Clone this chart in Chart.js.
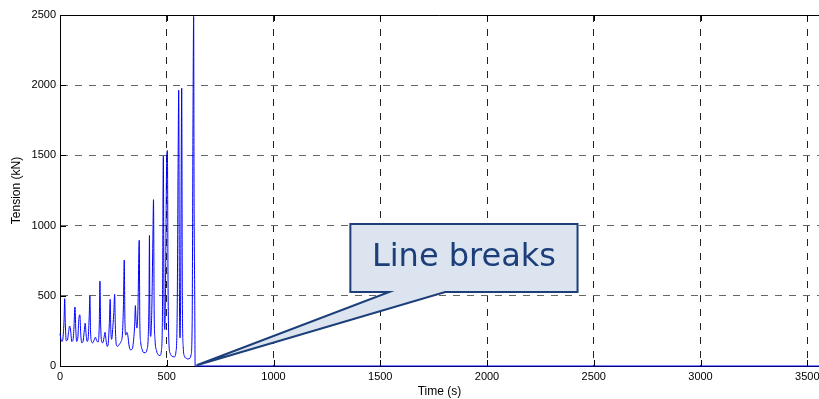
<!DOCTYPE html>
<html>
<head>
<meta charset="utf-8">
<script src="https://cdn.jsdelivr.net/npm/chart.js@4.4.0/dist/chart.umd.min.js"></script>
<style>
  html, body { margin: 0; padding: 0; background: #fff; }
  #wrap { width: 819px; height: 399px; }
</style>
</head>
<body>
<div id="wrap"><canvas id="tensionChart" width="819" height="399"></canvas></div>
<script>
// mooring line tension time history
const timeSec = [
  0, 5, 10, 14, 19, 22, 25, 29, 35, 40, 45, 50, 55, 60, 65, 70, 74, 78, 84, 88,
  93, 97, 102, 108, 113, 118, 122, 127, 132, 137, 140, 143, 148, 153, 160, 166, 172, 178, 184, 187,
  190, 195, 200, 206, 211, 216, 221, 226, 231, 235, 238, 242, 248, 252, 256, 259, 264, 270, 278, 286,
  292, 297, 301, 304, 308, 313, 318, 323, 330, 338, 345, 350, 353, 356, 360, 365, 371, 374, 378, 385,
  393, 400, 407, 413, 417, 419, 421, 425, 430, 435, 438, 441, 445, 452, 460, 468, 475, 480, 484, 487,
  491, 495, 499, 503, 506, 510, 516, 525, 535, 543, 549, 553, 556, 559, 562, 565, 568, 570, 573, 577,
  583, 592, 600, 608, 614, 619, 623, 626, 628, 631, 633, 3555
];
const tensionKN = [
  230, 185, 175, 200, 330, 480, 300, 180, 185, 240, 285, 250, 175, 180, 260, 420, 260, 175, 210, 330,
  365, 230, 165, 175, 240, 305, 230, 175, 200, 360, 500, 250, 175, 165, 185, 205, 180, 170, 300, 605,
  320, 175, 165, 200, 240, 180, 140, 160, 300, 475, 260, 190, 290, 380, 510, 290, 150, 140, 155, 175,
  220, 420, 755, 330, 220, 240, 215, 150, 115, 120, 190, 300, 430, 330, 270, 400, 895, 300, 170, 115,
  95, 95, 115, 200, 500, 930, 350, 210, 400, 900, 1185, 400, 190, 110, 80, 75, 110, 400, 1495, 500,
  260, 700, 1400, 1535, 600, 170, 90, 70, 65, 100, 400, 1400, 1965, 600, 200, 500, 1500, 1980, 500, 140,
  70, 55, 50, 55, 80, 300, 1800, 2490, 1200, 500, 0, 0
];
const xTicks = [0, 500, 1000, 1500, 2000, 2500, 3000, 3500];
const yTicks = [0, 500, 1000, 1500, 2000, 2500];
const calloutText = "Line breaks";

const points = timeSec.map((t, i) => ({ x: t, y: tensionKN[i] }));

// matlab-like frame: solid top edge and inward tick marks
const framePlugin = {
  id: "frame",
  afterDraw(chart) {
    const { ctx, chartArea: a, scales: { x, y } } = chart;
    ctx.save();
    ctx.strokeStyle = "#000";
    ctx.lineWidth = 1;
    ctx.beginPath();
    ctx.moveTo(a.left, a.top + 0.5);
    ctx.lineTo(a.right, a.top + 0.5);
    xTicks.forEach(v => {
      const px = Math.round(x.getPixelForValue(v)) + 0.5;
      ctx.moveTo(px, a.bottom);
      ctx.lineTo(px, a.bottom - 6);
      ctx.moveTo(px, a.top);
      ctx.lineTo(px, a.top + 6);
    });
    yTicks.forEach(v => {
      const py = Math.round(y.getPixelForValue(v)) + 0.5;
      ctx.moveTo(a.left, py);
      ctx.lineTo(a.left + 6, py);
    });
    ctx.stroke();
    ctx.restore();
  }
};

// speech-bubble annotation pointing at the break
const calloutPlugin = {
  id: "callout",
  afterDraw(chart) {
    const { ctx, scales: { x, y } } = chart;
    const X = v => x.getPixelForValue(v);
    const Y = v => y.getPixelForValue(v);
    const l = X(1360), r = X(2424), t = Y(1011), b = Y(527);
    ctx.save();
    ctx.beginPath();
    ctx.moveTo(l, t);
    ctx.lineTo(r, t);
    ctx.lineTo(r, b);
    ctx.lineTo(X(1804), b);
    ctx.lineTo(X(640), Y(5));
    ctx.lineTo(X(1542), b);
    ctx.lineTo(l, b);
    ctx.closePath();
    ctx.fillStyle = "#dce4f0";
    ctx.fill();
    ctx.lineWidth = 2;
    ctx.lineJoin = "miter";
    ctx.strokeStyle = "#1c3f7a";
    ctx.stroke();
    ctx.fillStyle = "#1c3f7a";
    ctx.font = "32px 'DejaVu Sans'";
    ctx.textAlign = "center";
    ctx.textBaseline = "alphabetic";
    ctx.fillText(calloutText, (l + r) / 2, Y(712));
    ctx.restore();
  }
};

const noPad = s => { s.paddingLeft = 0; s.paddingRight = 0; s.paddingTop = 0; s.paddingBottom = 0; };

new Chart(document.getElementById("tensionChart"), {
  type: "line",
  data: {
    datasets: [{
      data: points,
      borderColor: "#0000ff",
      borderWidth: 1,
      pointRadius: 0,
      cubicInterpolationMode: "monotone",
      clip: 2
    }]
  },
  options: {
    responsive: false,
    animation: false,
    layout: { padding: { top: 15, right: 0, bottom: 0, left: 0 }, autoPadding: false },
    plugins: { legend: { display: false }, tooltip: { enabled: false } },
    scales: {
      x: {
        type: "linear",
        min: 0,
        max: 3555,
        afterFit: s => { s.height = 33; noPad(s); },
        afterBuildTicks: s => { s.ticks = xTicks.map(v => ({ value: v })); },
        ticks: {
          autoSkip: false,
          maxRotation: 0,
          padding: 4,
          color: "#000",
          callback: v => String(v),
          font: { family: "'Liberation Sans', Arial", size: 11 }
        },
        grid: { color: "#222", lineWidth: 1, drawTicks: false },
        border: { display: true, color: "#000", width: 1, dash: [7, 7] },
        title: {
          display: true,
          text: "Time (s)",
          color: "#000",
          padding: { top: 0, bottom: 0 },
          font: { family: "'Liberation Sans', Arial", size: 12 }
        }
      },
      y: {
        min: 0,
        max: 2500,
        afterFit: s => { s.width = 60; noPad(s); },
        afterBuildTicks: s => { s.ticks = yTicks.map(v => ({ value: v })); },
        ticks: {
          padding: 4,
          color: "#000",
          callback: v => String(v),
          font: { family: "'Liberation Sans', Arial", size: 11 }
        },
        grid: { color: "#666", lineWidth: 1, drawTicks: false },
        border: { display: true, color: "#000", width: 1, dash: [7, 7] },
        title: {
          display: true,
          text: "Tension (kN)",
          color: "#000",
          padding: { top: 9, bottom: 0 },
          font: { family: "'Liberation Sans', Arial", size: 12 }
        }
      }
    }
  },
  plugins: [framePlugin, calloutPlugin]
});
</script>
</body>
</html>
